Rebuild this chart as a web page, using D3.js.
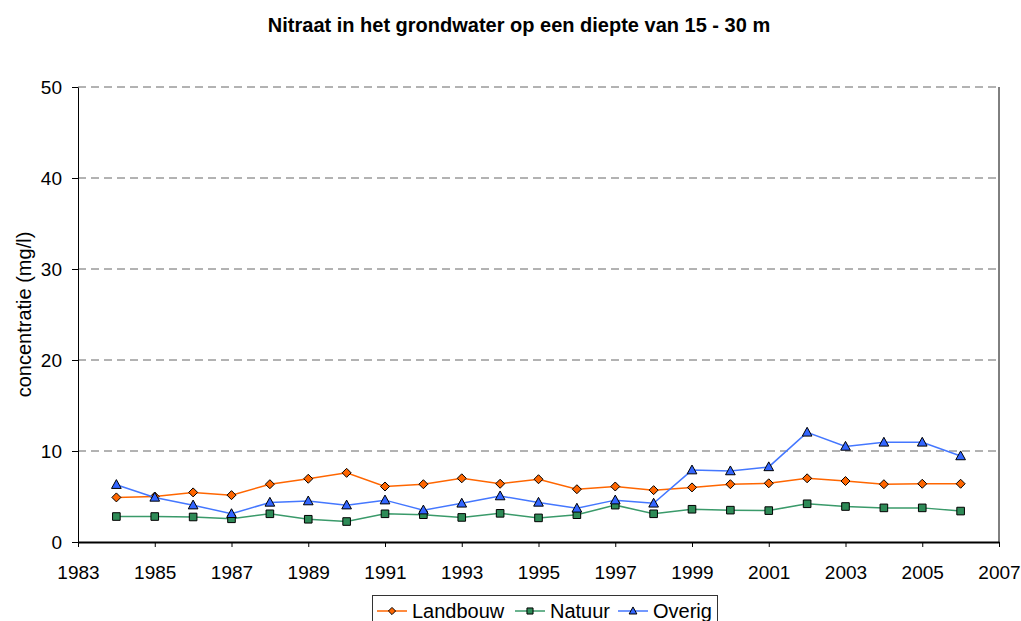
<!DOCTYPE html>
<html>
<head>
<meta charset="utf-8">
<script src="https://cdn.jsdelivr.net/npm/d3@7"></script>
<style>
body { margin: 0; background: #fff; }
text { font-family: Arial, "Liberation Sans", sans-serif; }
</style>
</head>
<body>
<script>
// data
var years = [1984, 1985, 1986, 1987, 1988, 1989, 1990, 1991, 1992, 1993, 1994, 1995,
             1996, 1997, 1998, 1999, 2000, 2001, 2002, 2003, 2004, 2005, 2006];
var landbouw = [4.9, 5.0, 5.45, 5.15, 6.35, 6.95, 7.6, 6.1, 6.35, 7.0, 6.4, 6.9,
                5.8, 6.1, 5.7, 6.0, 6.35, 6.45, 7.0, 6.7, 6.35, 6.4, 6.4];
var natuur = [2.8, 2.8, 2.75, 2.55, 3.1, 2.5, 2.25, 3.1, 3.0, 2.7, 3.15, 2.65,
              3.0, 4.05, 3.1, 3.6, 3.5, 3.45, 4.2, 3.9, 3.75, 3.75, 3.4];
var overig = [6.3, 4.9, 4.05, 3.1, 4.35, 4.5, 4.05, 4.6, 3.5, 4.25, 5.05, 4.35,
              3.7, 4.6, 4.25, 7.9, 7.8, 8.25, 12.05, 10.5, 10.95, 10.95, 9.45];
var xTicks = [1983, 1985, 1987, 1989, 1991, 1993, 1995, 1997, 1999, 2001, 2003, 2005, 2007];
var yTicks = [0, 10, 20, 30, 40, 50];
var seriesNames = ["Landbouw", "Natuur", "Overig"];

var series = [
    {name: seriesNames[0], values: landbouw, line: "#ff6600", fill: "#ff6600", shape: "diamond"},
    {name: seriesNames[1], values: natuur, line: "#3a9a6a", fill: "#2e8b57", shape: "square"},
    {name: seriesNames[2], values: overig, line: "#4477ff", fill: "#3366ff", shape: "triangle"}
];

// set the dimensions and margins of the graph
var margin = {top: 87, right: 22, bottom: 79, left: 78},
    width = 1021 - margin.left - margin.right,
    height = 621 - margin.top - margin.bottom;

var x = d3.scaleLinear().domain([1983, 2007]).range([0, width]);
var y = d3.scaleLinear().domain([0, 50]).range([height, 0]);

var root = d3.select("body").append("svg")
    .attr("width", width + margin.left + margin.right)
    .attr("height", height + margin.top + margin.bottom);

// title
root.append("text")
    .attr("x", 519)
    .attr("y", 32)
    .attr("text-anchor", "middle")
    .style("font-size", "20px")
    .style("font-weight", "bold")
    .text("Nitraat in het grondwater op een diepte van 15 - 30 m");

var svg = root.append("g")
    .attr("transform", "translate(" + margin.left + "," + margin.top + ")");

// gridlines
svg.selectAll(".grid")
    .data(yTicks.filter(function (d) { return d > 0; }))
    .enter()
    .append("line")
    .attr("x1", 0)
    .attr("x2", width)
    .attr("y1", function (d) { return y(d); })
    .attr("y2", function (d) { return y(d); })
    .attr("stroke", "#666")
    .attr("stroke-width", 1)
    .attr("stroke-dasharray", "8,5");

// right border of plot area
svg.append("line")
    .attr("x1", width).attr("x2", width)
    .attr("y1", 0).attr("y2", height)
    .attr("stroke", "#000")
    .attr("stroke-width", 1);

// X axis
var gx = svg.append("g")
    .attr("transform", "translate(0," + height + ")")
    .call(d3.axisBottom(x)
        .tickValues(xTicks)
        .tickFormat(d3.format("d"))
        .tickSize(5)
        .tickPadding(19)
        .tickSizeOuter(0));
gx.select(".domain").attr("stroke-width", 2);
gx.selectAll("text").style("font-size", "19px").attr("fill", "#000");

// Y axis
var gy = svg.append("g")
    .call(d3.axisLeft(y)
        .tickValues(yTicks)
        .tickSize(6)
        .tickPadding(10)
        .tickSizeOuter(0));
gy.selectAll("text").style("font-size", "19px").attr("fill", "#000");

// y label
root.append("text")
    .attr("transform", "translate(31," + (margin.top + height / 2) + ") rotate(-90)")
    .attr("text-anchor", "middle")
    .style("font-size", "20px")
    .text("concentratie (mg/l)");

function markerPath(shape, s) {
    if (shape == "diamond") {
        return "M0," + (-s) + "L" + s + ",0L0," + s + "L" + (-s) + ",0Z";
    }
    if (shape == "square") {
        return "M" + (-s) + "," + (-s) + "H" + s + "V" + s + "H" + (-s) + "Z";
    }
    return "M0," + (-s * 1.15) + "L" + (s * 1.1) + "," + (s * 0.85) + "L" + (-s * 1.1) + "," + (s * 0.85) + "Z";
}
var markerSize = {diamond: 4.5, square: 3.8, triangle: 4.4};

var line = d3.line()
    .x(function (d) { return x(d[0]); })
    .y(function (d) { return y(d[1]); });

series.forEach(function (s) {
    var pts = years.map(function (yr, i) { return [yr, s.values[i]]; });
    svg.append("path")
        .datum(pts)
        .attr("fill", "none")
        .attr("stroke", s.line)
        .attr("stroke-width", 1.5)
        .attr("d", line);
    svg.selectAll(".m-" + s.shape)
        .data(pts)
        .enter()
        .append("path")
        .attr("transform", function (d) { return "translate(" + x(d[0]) + "," + y(d[1]) + ")"; })
        .attr("d", markerPath(s.shape, markerSize[s.shape]))
        .attr("fill", s.fill)
        .attr("stroke", "#000")
        .attr("stroke-width", 1);
});

// legend
var legend = root.append("g");
legend.append("rect")
    .attr("x", 372.5)
    .attr("y", 595.5)
    .attr("width", 345)
    .attr("height", 35)
    .attr("fill", "#fff")
    .attr("stroke", "#333")
    .attr("stroke-width", 1);

var legX = [377, 515, 618];
series.forEach(function (s, i) {
    var lg = legend.append("g").attr("transform", "translate(" + legX[i] + ",611)");
    lg.append("line")
        .attr("x1", 0).attr("x2", 30)
        .attr("y1", 0).attr("y2", 0)
        .attr("stroke", s.line)
        .attr("stroke-width", 1.5);
    lg.append("path")
        .attr("transform", "translate(15,0)")
        .attr("d", markerPath(s.shape, markerSize[s.shape] * 0.8))
        .attr("fill", s.fill)
        .attr("stroke", "#000")
        .attr("stroke-width", 1);
    lg.append("text")
        .attr("x", 35)
        .attr("y", 0)
        .attr("dy", "0.35em")
        .style("font-size", "20px")
        .text(s.name);
});
</script>
</body>
</html>
